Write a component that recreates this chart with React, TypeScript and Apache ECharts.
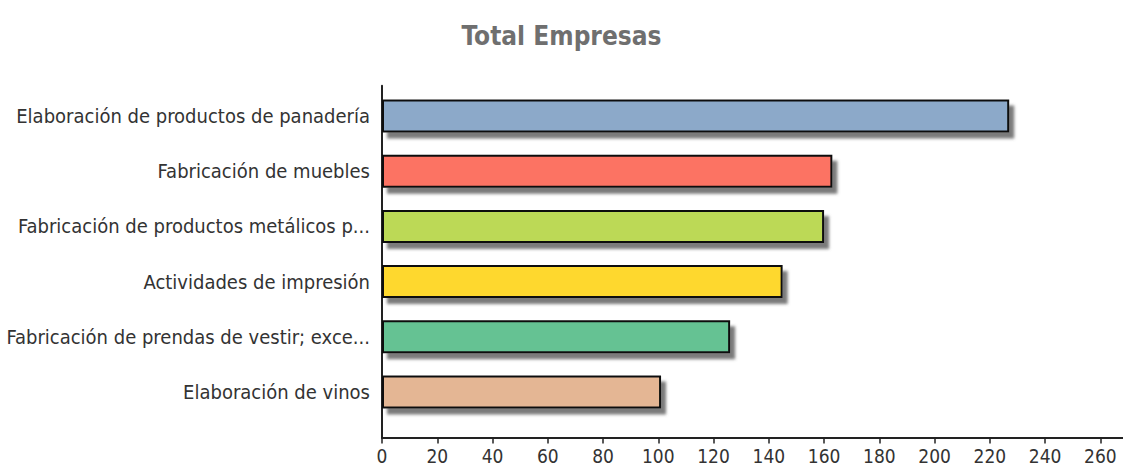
import React, { useEffect, useRef } from "react";
import * as echarts from "echarts";

const title = "Total Empresas";
const categories = [
  "Elaboración de productos de panadería",
  "Fabricación de muebles",
  "Fabricación de productos metálicos p...",
  "Actividades de impresión",
  "Fabricación de prendas de vestir; exce...",
  "Elaboración de vinos",
];
const values = [227, 163, 160, 145, 126, 101];
const colors = ["#8CA9C9", "#FC7363", "#BCD956", "#FED82E", "#65C293", "#E4B694"];

const FONT = "'Liberation Sans Narrow', 'Arial Narrow', 'DejaVu Sans Condensed', sans-serif";

export default function App() {
  const ref = useRef<HTMLDivElement>(null);
  useEffect(() => {
    if (!ref.current) return;
    const chart = echarts.init(ref.current, undefined, { renderer: "svg" });
    chart.setOption({
      animation: false,
      title: {
        text: title,
        left: "center",
        top: 18,
        textStyle: { fontFamily: FONT, fontSize: 26, fontWeight: "bold", color: "#6f6f6f" },
      },
      grid: [
        { left: 382, right: -5, top: 88.4, height: 331.2, outerBoundsMode: "none", containLabel: false },
        { left: 382, right: -5, top: 85.7, height: 352, outerBoundsMode: "none", containLabel: false },
      ],
      xAxis: [
        {
          type: "value",
          gridIndex: 0,
          min: 0,
          max: 270,
          interval: 20,
          offset: 18,
          axisLine: { show: true, lineStyle: { color: "#222", width: 2 } },
          axisTick: { show: true, length: 6, lineStyle: { color: "#222", width: 1.5 } },
          axisLabel: {
            margin: 9,
            fontFamily: FONT,
            fontSize: 19,
            color: "#333",
            showMaxLabel: false,
          },
          splitLine: { show: false },
        },
        { type: "value", gridIndex: 1, show: false },
      ],
      yAxis: [
        {
          type: "category",
          gridIndex: 0,
          data: categories,
          inverse: true,
          axisLine: { show: false },
          axisTick: { show: false },
          axisLabel: { margin: 12, fontFamily: FONT, fontSize: 20, color: "#333" },
        },
        {
          type: "value",
          gridIndex: 1,
          axisLine: { show: true, lineStyle: { color: "#222", width: 2 } },
          axisTick: { show: false },
          axisLabel: { show: false },
          splitLine: { show: false },
        },
      ],
      series: [
        {
          type: "bar",
          xAxisIndex: 0,
          yAxisIndex: 0,
          barWidth: 33,
          data: values.map((v, i) => ({
            value: v,
            itemStyle: {
              color: colors[i],
              borderColor: "#111",
              borderWidth: 2,
              shadowColor: "rgba(115,115,115,0.95)",
              shadowOffsetX: 5,
              shadowOffsetY: 6,
              shadowBlur: 3,
            },
          })),
        },
      ],
    });
    return () => chart.dispose();
  }, []);
  return (
    <div
      ref={ref}
      style={{ position: "absolute", left: 0, top: 0, width: 1123, height: 469 }}
    />
  );
}
